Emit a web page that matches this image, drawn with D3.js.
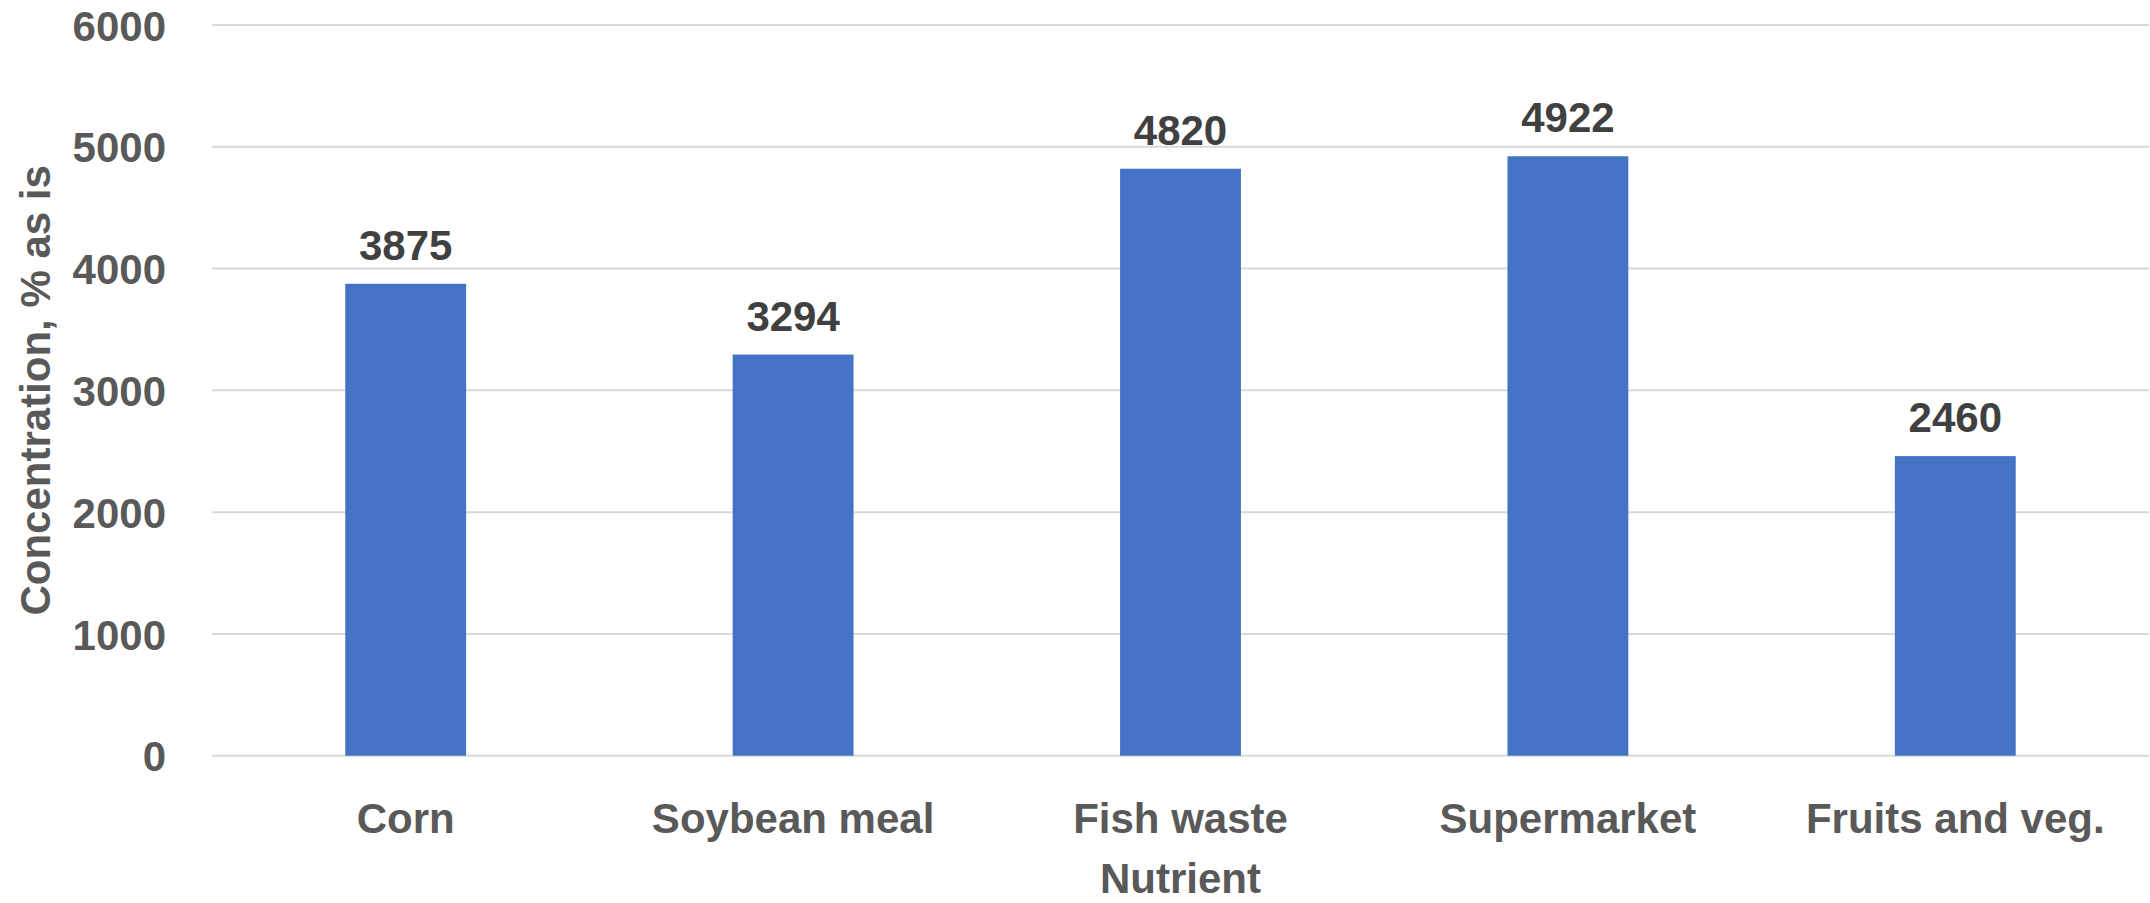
<!DOCTYPE html>
<html>
<head>
<meta charset="utf-8">
<script src="https://cdn.jsdelivr.net/npm/d3@7"></script>
<style>
  html, body { margin: 0; padding: 0; background: #ffffff; }
  svg { display: block; }
  text { font-family: "Liberation Sans", Arial, sans-serif; font-weight: bold; }
</style>
</head>
<body>
<svg id="chart" width="2150" height="903"></svg>
<script>
// Feed sources and their measured concentration
const categories = ["Corn", "Soybean meal", "Fish waste", "Supermarket", "Fruits and veg."];
const values = [3875, 3294, 4820, 4922, 2460];
const yTicks = [0, 1000, 2000, 3000, 4000, 5000, 6000];
const xTitle = "Nutrient";
const yTitle = "Concentration, % as is";

const W = 2150, H = 903;
const plot = { left: 212, right: 2149, top: 25, bottom: 755.7 };
const fontSize = 42;

const svg = d3.select("#chart");

const x = d3.scaleBand()
  .domain(categories)
  .range([plot.left, plot.right])
  .paddingInner(0.688)
  .paddingOuter(0.344);

const y = d3.scaleLinear()
  .domain([0, 6000])
  .range([plot.bottom, plot.top]);

// Horizontal gridlines
svg.append("g")
  .selectAll("line")
  .data(yTicks)
  .join("line")
  .attr("x1", plot.left)
  .attr("x2", plot.right)
  .attr("y1", d => y(d))
  .attr("y2", d => y(d))
  .attr("stroke", "#d9d9d9")
  .attr("stroke-width", 2);

// Y axis tick labels
const yAxis = d3.axisLeft(y).tickValues(yTicks).tickSize(0).tickPadding(0).tickFormat(d3.format("d"));
const gy = svg.append("g")
  .attr("transform", `translate(166,0)`)
  .call(yAxis);
gy.select(".domain").remove();
gy.selectAll("text")
  .attr("font-size", fontSize)
  .attr("font-family", "Liberation Sans, Arial, sans-serif")
  .attr("font-weight", "bold")
  .attr("fill", "#595959")
  .attr("dy", "0.36em");

// Bars
svg.append("g")
  .selectAll("rect")
  .data(values)
  .join("rect")
  .attr("x", (d, i) => x(categories[i]))
  .attr("width", x.bandwidth())
  .attr("y", d => y(d))
  .attr("height", d => y(0) - y(d))
  .attr("fill", "#4472c4");

// Value labels above bars
svg.append("g")
  .selectAll("text")
  .data(values)
  .join("text")
  .attr("x", (d, i) => x(categories[i]) + x.bandwidth() / 2)
  .attr("y", d => y(d) - 24)
  .attr("text-anchor", "middle")
  .attr("font-size", fontSize)
  .attr("fill", "#404040")
  .text(d => d);

// X axis category labels
const xAxis = d3.axisBottom(x).tickSize(0).tickPadding(0);
const gx = svg.append("g")
  .attr("transform", `translate(0,${plot.bottom})`)
  .call(xAxis);
gx.select(".domain").remove();
gx.selectAll("text")
  .attr("font-size", fontSize)
  .attr("font-family", "Liberation Sans, Arial, sans-serif")
  .attr("font-weight", "bold")
  .attr("fill", "#595959")
  .attr("dy", null)
  .attr("y", 833 - plot.bottom);

// Axis titles
svg.append("text")
  .attr("x", (plot.left + plot.right) / 2)
  .attr("y", 893)
  .attr("text-anchor", "middle")
  .attr("font-size", fontSize)
  .attr("fill", "#595959")
  .text(xTitle);

svg.append("text")
  .attr("transform", `translate(50,${(plot.top + plot.bottom) / 2}) rotate(-90)`)
  .attr("text-anchor", "middle")
  .attr("font-size", fontSize)
  .attr("fill", "#595959")
  .text(yTitle);
</script>
</body>
</html>
